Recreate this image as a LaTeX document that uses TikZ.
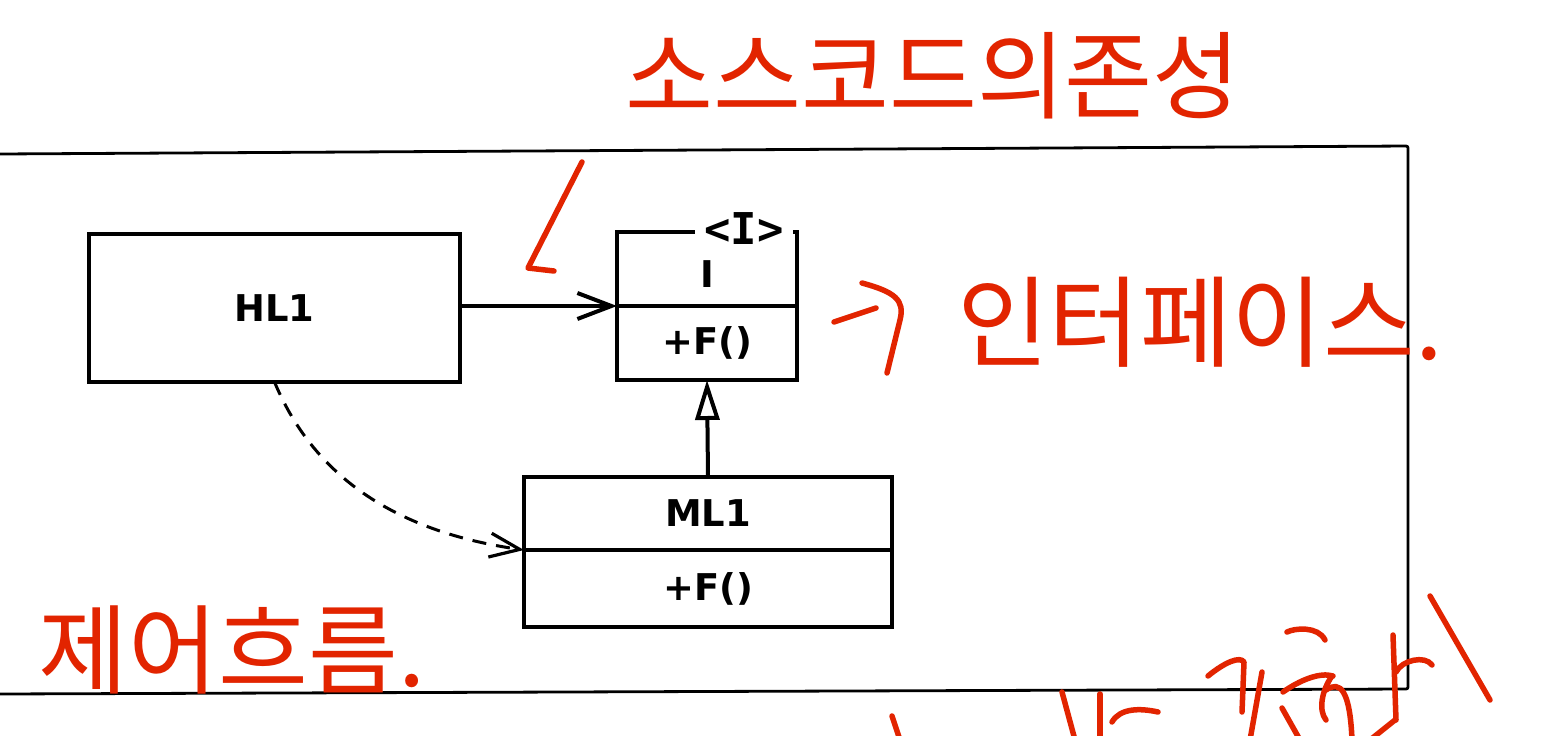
\documentclass[tikz,border=0pt]{standalone}
\usepackage{fontspec}
\setmainfont{DejaVu Sans}
\newfontfamily\kr{Noto Sans CJK KR}
\newfontfamily\umlmono{DejaVu Sans Mono}
\usetikzlibrary{arrows.meta}
\definecolor{pen}{RGB}{226,36,0}
\begin{document}
\begin{tikzpicture}[x=1bp,y=-1bp,
  umlbox/.style={draw, line width=4.6bp, outer sep=0pt, inner sep=0pt,
    font=\bfseries\fontsize{37}{40}\selectfont},
  penline/.style={draw=pen, line width=5.5bp, line cap=round, line join=round},
  pentext/.style={text=pen, inner sep=0pt, font=\kr\fontsize{94}{94}\selectfont},
  assoc/.style={line width=4bp, -{Straight Barb[length=34bp,width=26bp,line width=4bp]}},
  inherit/.style={line width=4bp, -{Triangle[open,length=40bp,width=24bp,line width=4bp]}},
  dep/.style={line width=3bp, dash pattern=on 14bp off 10bp,
    -{Straight Barb[length=30bp,width=24bp,line width=3.2bp]}}
]
\useasboundingbox (0,0) rectangle (1554,736);
\clip (0,0) rectangle (1554,736);
\fill[white] (0,0) rectangle (1554,736);

% frame
\draw[line width=2.8bp, rounded corners=2bp] (0,154) -- (1408,146) -- (1408,689) -- (0,694);

% boxes
\node[umlbox, minimum width=371bp, minimum height=148bp] (HL1) at (274.5,308) {HL1};
\node[umlbox, minimum width=180bp, minimum height=74bp, text height=37bp, text depth=0pt] (Ititle) at (707,269) {I};
\node[umlbox, minimum width=180bp, minimum height=74bp] (Imeth) at (707,343) {+F()};
\node[fill=white, inner sep=0pt, minimum width=98bp, text height=28bp, text depth=0pt,
  font=\umlmono\bfseries\fontsize{44}{46}\selectfont] (Ilabel) at (744,230) {<I>};
\node[umlbox, minimum width=368bp, minimum height=73bp] (MLtitle) at (708,513.5) {ML1};
\node[umlbox, minimum width=368bp, minimum height=77bp] (MLmeth) at (708,588.5) {+F()};

% connectors
\draw[assoc] (HL1.east |- Ititle.south) -- (Ititle.south west);
\draw[inherit] (MLtitle.north) -- (Imeth.south);
\draw[dep] (HL1.south) .. controls (305,455) and (370,528) .. (MLmeth.north west);

% handwritten notes
\node[pentext, font=\kr\fontsize{96}{96}\selectfont] (top) at (933,76) {소스코드의존성};
\draw[penline] (582,162) -- (528,268) -- (554,271);

\node[pentext, font=\kr\fontsize{100}{100}\selectfont] (right) at (1200,322) {인터페이스.};
\draw[penline] (834,322) -- (876,308);
\draw[penline] (862,283) .. controls (895,292) and (905,300) .. (900,320) -- (887,373);

\node[pentext, font=\kr\fontsize{98}{98}\selectfont] (left) at (232,650) {제어흐름.};

% bottom right fragments (cut off)
\draw[penline] (892,716) -- (900,740);
\draw[penline] (1062,692) -- (1075,740);
\draw[penline] (1100,694) -- (1100,740);
\draw[penline] (1112,722) .. controls (1120,708) and (1140,708) .. (1158,712);
\draw[penline] (1208,676) .. controls (1225,662) and (1240,656) .. (1244,662) -- (1242,712);
\draw[penline] (1262,672) -- (1250,740);
\draw[penline] (1282,708) -- (1300,740);
\draw[penline] (1283,692) .. controls (1300,680) and (1320,672) .. (1333,676);
\draw[penline] (1287,632) .. controls (1295,628) and (1318,626) .. (1325,640);
\draw[penline] (1332,676) .. controls (1322,690) and (1318,710) .. (1326,720);
\draw[penline] (1326,690) .. controls (1340,680) and (1350,690) .. (1352,740);
\draw[penline] (1393,635) -- (1396,720);
\draw[penline] (1396,672) .. controls (1402,660) and (1425,655) .. (1432,665);
\draw[penline] (1395,720) -- (1370,740);
\draw[penline] (1430,596) -- (1490,700);
\end{tikzpicture}
\end{document}
